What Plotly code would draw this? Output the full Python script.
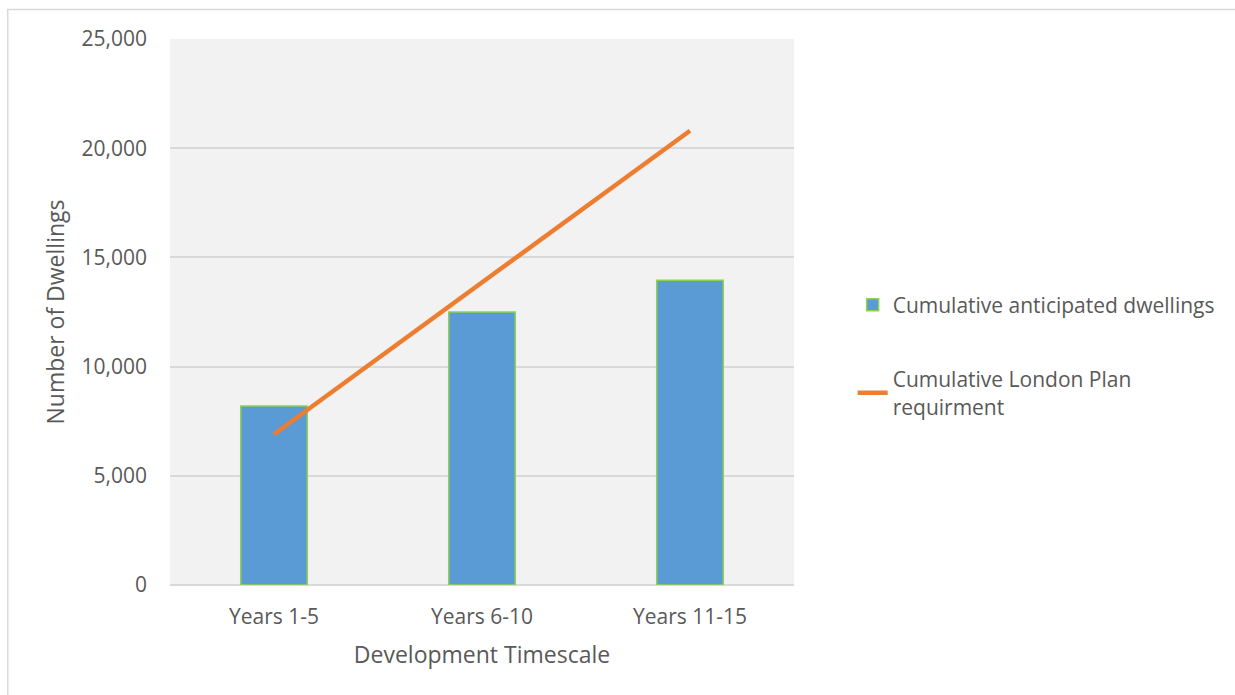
import plotly.graph_objects as go

categories = ["Years 1-5", "Years 6-10", "Years 11-15"]
anticipated = [8200, 12500, 13950]
london_plan = [6900, 13850, 20800]
y_ticks = [0, 5000, 10000, 15000, 20000, 25000]
y_tick_labels = ["0", "5,000", "10,000", "15,000", "20,000", "25,000"]

FONT = "Open Sans"
TXT = "#595959"

fig = go.Figure()
fig.add_trace(go.Bar(
    x=categories, y=anticipated, name="Cumulative anticipated dwellings",
    marker=dict(color="#5B9BD5", line=dict(color="#92D050", width=1.5)),
    legend="legend",
))
fig.add_trace(go.Scatter(
    x=categories, y=london_plan, mode="lines",
    name="Cumulative London Plan<br>requirment",
    line=dict(color="#ED7D31", width=4.5),
    legend="legend2",
))

fig.update_layout(
    width=1235, height=695,
    margin=dict(l=170, r=441, t=39, b=110),
    paper_bgcolor="white", plot_bgcolor="#F2F2F2",
    font=dict(family=FONT, size=21, color=TXT),
    bargap=0.68,
    showlegend=True,
    legend=dict(x=1.094, y=(585 - 305) / 546, xanchor="left", yanchor="middle",
                bgcolor="rgba(0,0,0,0)", font=dict(size=21, color=TXT)),
    legend2=dict(x=1.094, y=(585 - 393) / 546, xanchor="left", yanchor="middle",
                 bgcolor="rgba(0,0,0,0)", font=dict(size=21, color=TXT)),
    xaxis=dict(
        range=[-0.5, 2.5], showgrid=False, zeroline=False, showline=False,
        ticks="", tickfont=dict(size=21, color=TXT), ticklabelstandoff=17,
        title=dict(text="Development Timescale", font=dict(size=23, color=TXT), standoff=17),
    ),
    yaxis=dict(
        range=[0, 25000], tickvals=y_ticks, ticktext=y_tick_labels,
        showgrid=True, gridcolor="#D9D9D9", gridwidth=1.5,
        zeroline=True, zerolinecolor="#D9D9D9", zerolinewidth=2,
        showline=False, ticks="", ticklabelstandoff=22,
        tickfont=dict(size=21, color=TXT),
        title=dict(text="Number of Dwellings", font=dict(size=23, color=TXT), standoff=10),
    ),
    shapes=[dict(
        type="rect", xref="paper", yref="paper",
        x0=(7.5 - 170) / 625, x1=(1245 - 170) / 625,
        y0=(585 - 705) / 546, y1=(585 - 9.5) / 546,
        line=dict(color="#D9D9D9", width=1.5), fillcolor="rgba(0,0,0,0)", layer="below",
    )],
)

fig.write_html("out.html")
